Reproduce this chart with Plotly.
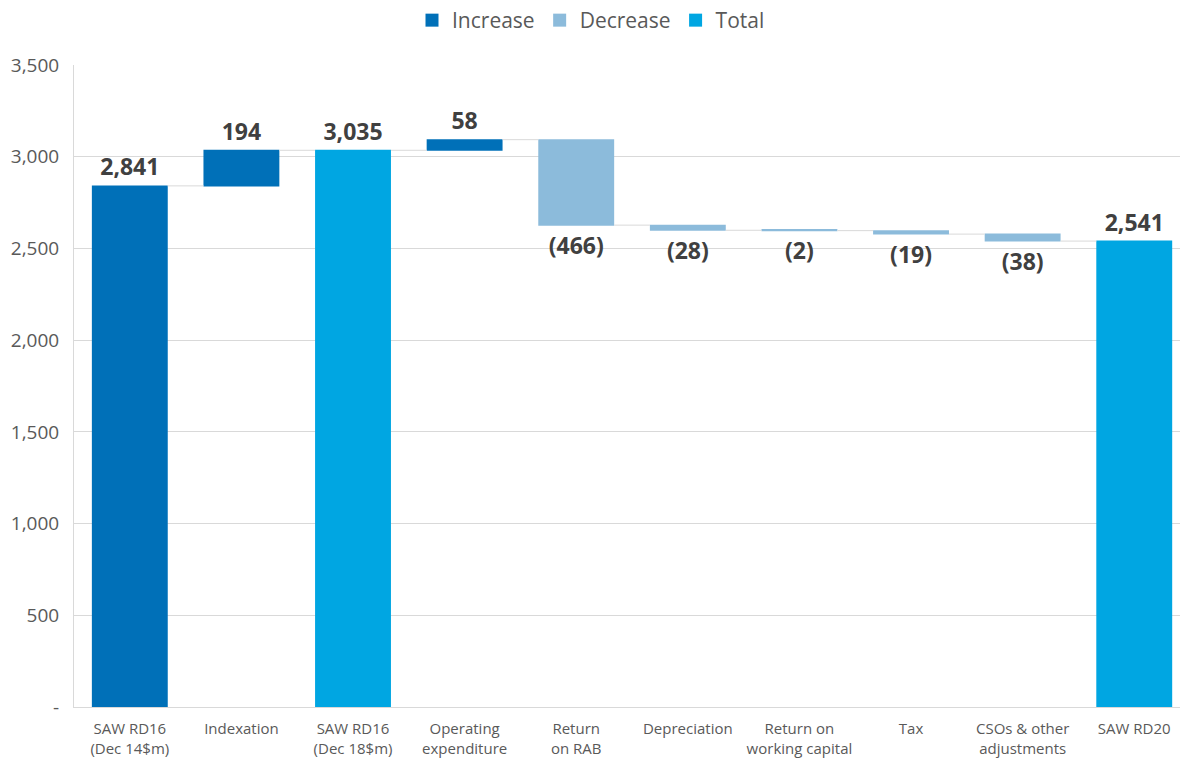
import plotly.graph_objects as go

categories = ["SAW RD16<br>(Dec 14$m)", "Indexation", "SAW RD16<br>(Dec 18$m)", "Operating<br>expenditure",
              "Return<br>on RAB", "Depreciation", "Return on<br>working capital", "Tax",
              "CSOs & other<br>adjustments", "SAW RD20"]
measures = ["relative", "relative", "total", "relative", "relative", "relative", "relative", "relative", "relative", "total"]
values = [2841, 194, 0, 58, -466, -28, -2, -19, -38, 0]
labels = ["2,841", "194", "3,035", "58", "(466)", "(28)", "(2)", "(19)", "(38)", "2,541"]

y_ticks = [0, 500, 1000, 1500, 2000, 2500, 3000, 3500]
y_ticktext = ["-", "500", "1,000", "1,500", "2,000", "2,500", "3,000", "3,500"]

INC = "#0070B8"
DEC = "#8CBBDB"
TOT = "#00A6E2"
FONT = "Open Sans"

fig = go.Figure()
fig.add_trace(go.Waterfall(
    x=categories, y=values, measure=measures,
    text=labels, textposition="outside",
    textfont=dict(family=FONT, size=23, color="#404040", weight="bold"),
    increasing=dict(marker=dict(color=INC)),
    decreasing=dict(marker=dict(color=DEC)),
    totals=dict(marker=dict(color=TOT)),
    connector=dict(line=dict(color="#D9D9D9", width=1)),
    showlegend=False, cliponaxis=False, hoverinfo="skip",
))
for name, col in [("Increase", INC), ("Decrease", DEC), ("Total", TOT)]:
    fig.add_trace(go.Scatter(x=[None], y=[None], mode="markers", name=name,
                             marker=dict(symbol="square", size=13, color=col)))

fig.update_layout(
    width=1182, height=763,
    margin=dict(l=74, r=2, t=65, b=56),
    paper_bgcolor="white", plot_bgcolor="white",
    waterfallgap=0.32,
    font=dict(family=FONT, color="#595959"),
    legend=dict(orientation="h", x=0.5, xanchor="center", xref="container",
                y=1.0, yanchor="top", yref="container",
                font=dict(size=21, color="#595959"), itemwidth=30, tracegroupgap=0),
    xaxis=dict(range=[-0.5, 9.41], showline=True, linecolor="#D9D9D9", showgrid=False,
               tickfont=dict(size=15, color="#595959"), ticks="", ticklabelstandoff=8),
    yaxis=dict(range=[0, 3500], tickvals=y_ticks, ticktext=y_ticktext, showgrid=True,
               gridcolor="#D9D9D9", showline=True, linecolor="#D9D9D9", zeroline=False,
               tickfont=dict(size=19, color="#595959"), ticks="", ticklabelstandoff=10),
)
fig.write_html("out.html")
